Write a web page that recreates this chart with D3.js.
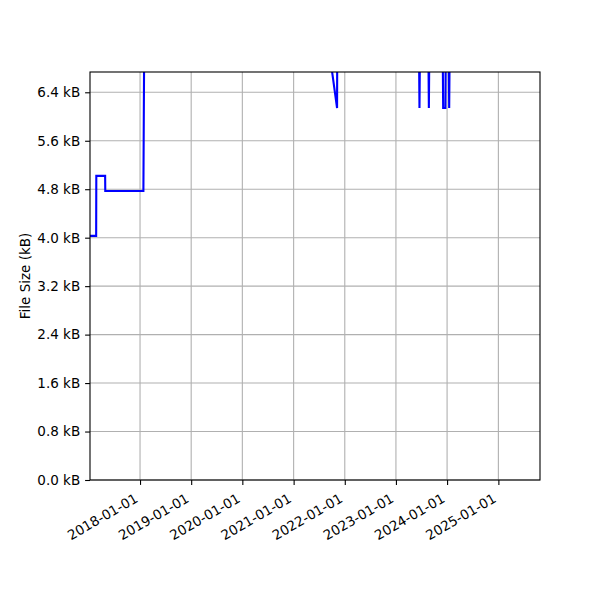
<!DOCTYPE html>
<html>
<head>
<meta charset="utf-8">
<script src="https://cdn.jsdelivr.net/npm/d3@7"></script>
<style>
  body { margin: 0; background: #fff; }
  text { font-family: "DejaVu Sans", sans-serif; fill: #000; }
</style>
</head>
<body>
<div id="chart"></div>
<script>
// file size history (kB); values above the top are clipped
var dates = ["2017-01-09", "2017-02-22", "2017-02-23", "2017-04-27", "2017-04-28",
  "2018-01-25", "2018-02-04", "2021-09-17", "2021-11-07", "2021-11-08",
  "2023-06-15", "2023-06-18", "2023-06-21", "2023-08-21", "2023-08-24", "2023-08-27",
  "2023-12-01", "2023-12-04", "2023-12-20", "2023-12-22",
  "2024-01-13", "2024-01-16", "2024-01-19", "2025-09-01"];
var sizes = [4.03, 4.03, 5.02, 5.02, 4.77,
  4.77, 9.0, 7.0, 6.14, 7.0,
  7.0, 6.14, 7.0, 7.0, 6.14, 7.0,
  7.0, 6.14, 6.14, 7.0,
  7.0, 6.14, 7.0, 7.0];
var y_ticks = [0, 0.8, 1.6, 2.4, 3.2, 4.0, 4.8, 5.6, 6.4];
var x_ticks = ["2018-01-01", "2019-01-01", "2020-01-01", "2021-01-01",
  "2022-01-01", "2023-01-01", "2024-01-01", "2025-01-01"];
var x_range = ["2017-01-09", "2025-10-25"];
var y_max = 6.735;

var parse = d3.utcParse("%Y-%m-%d");
var fmt = d3.utcFormat("%Y-%m-%d");

var margin = { left: 90, right: 60, top: 72, bottom: 120 };
var width = 600, height = 600;

var svg = d3.select("#chart").append("svg")
    .attr("width", width).attr("height", height);

var x = d3.scaleUtc()
    .domain(x_range.map(parse))
    .range([margin.left, width - margin.right]);

var y = d3.scaleLinear()
    .domain([0, y_max])
    .range([height - margin.bottom, margin.top]);

// grid
svg.append("g").selectAll("line.gx")
  .data(x_ticks).enter().append("line")
    .attr("x1", d => x(parse(d))).attr("x2", d => x(parse(d)))
    .attr("y1", y(0)).attr("y2", y(y_max))
    .attr("stroke", "#b0b0b0").attr("stroke-width", 1.1);

svg.append("g").selectAll("line.gy")
  .data(y_ticks).enter().append("line")
    .attr("x1", x.range()[0]).attr("x2", x.range()[1])
    .attr("y1", d => y(d)).attr("y2", d => y(d))
    .attr("stroke", "#b0b0b0").attr("stroke-width", 1.1);

// data line
svg.append("clipPath").attr("id", "clip")
  .append("rect")
    .attr("x", x.range()[0]).attr("y", y(y_max))
    .attr("width", x.range()[1] - x.range()[0])
    .attr("height", y(0) - y(y_max));

var points = dates.map((d, i) => ({ date: parse(d), size: sizes[i] }));

var line = d3.line()
    .x(d => x(d.date))
    .y(d => y(d.size));

svg.append("path")
    .datum(points)
    .attr("clip-path", "url(#clip)")
    .attr("d", line)
    .attr("fill", "none")
    .attr("stroke", "blue")
    .attr("stroke-width", 2.1)
    .attr("stroke-linejoin", "miter");

// axes
var yAxis = svg.append("g")
    .attr("transform", "translate(" + margin.left + ",0)")
    .call(d3.axisLeft(y).tickValues(y_ticks).tickSize(4.9).tickPadding(4.9)
      .tickFormat(d => d3.format(".1f")(d) + " kB"));

var xAxis = svg.append("g")
    .attr("transform", "translate(0," + y(0) + ")")
    .call(d3.axisBottom(x).tickValues(x_ticks.map(parse)).tickSize(4.9)
      .tickFormat(fmt));

[xAxis, yAxis].forEach(function(ax){
  ax.select(".domain").remove();
  ax.selectAll(".tick line").attr("stroke", "#000").attr("stroke-width", 1.1);
  ax.selectAll("text").style("font-size", "13.5px").attr("fill", "#000")
    .style("font-family", "'DejaVu Sans', sans-serif");
});

xAxis.selectAll(".tick text")
    .attr("y", 0).attr("dy", null)
    .attr("text-anchor", "end")
    .attr("transform", "translate(0,24) rotate(-30)")
    .attr("dy", "-0.24em");

// frame
svg.append("rect")
    .attr("x", x.range()[0]).attr("y", y(y_max))
    .attr("width", x.range()[1] - x.range()[0])
    .attr("height", y(0) - y(y_max))
    .attr("fill", "none").attr("stroke", "#000").attr("stroke-width", 1.1);

svg.append("text")
    .attr("transform", "translate(30," + ((y(0) + y(y_max)) / 2) + ") rotate(-90)")
    .attr("text-anchor", "middle")
    .style("font-size", "13.5px")
    .text("File Size (kB)");
</script>
</body>
</html>
